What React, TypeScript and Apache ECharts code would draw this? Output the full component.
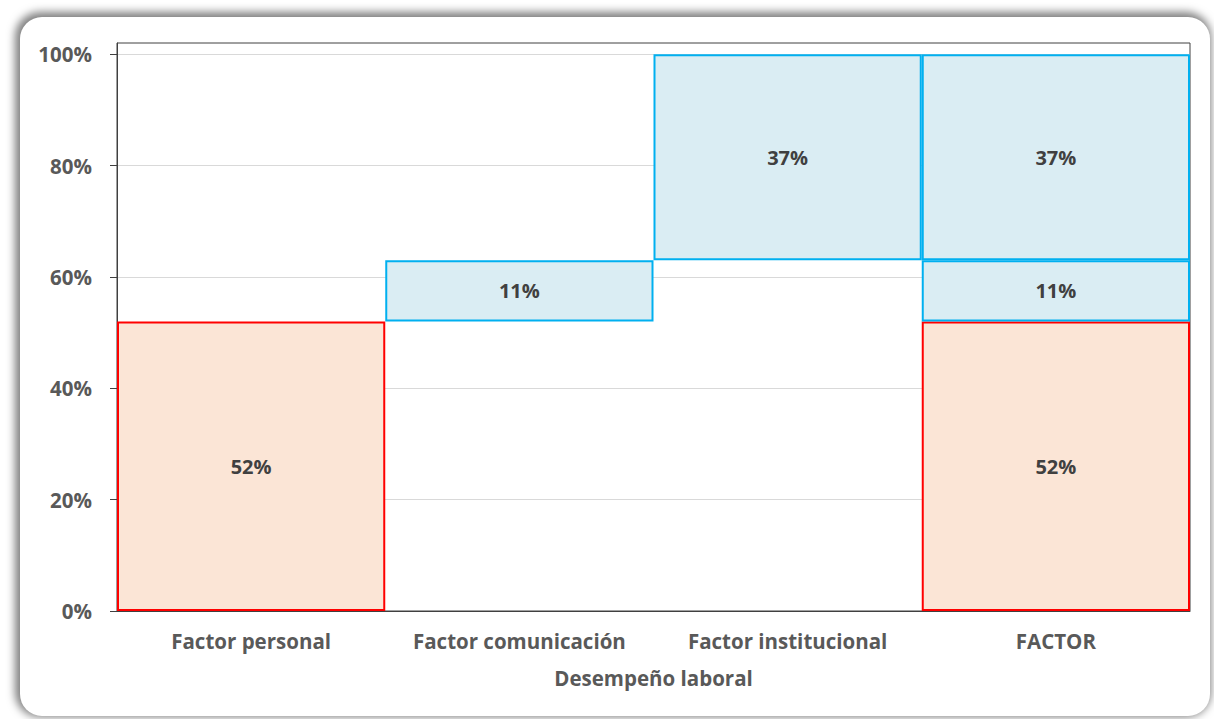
import React, { useEffect, useRef } from "react";
import * as echarts from "echarts";

// Waterfall of factor contributions to job performance
const categories = ["Factor personal", "Factor comunicación", "Factor institucional", "FACTOR"];
const personal = [0.52, null, null, 0.52];
const comunicacion = [null, 0.11, null, 0.11];
const institucional = [null, null, 0.37, 0.37];
const yTicks = [0, 0.2, 0.4, 0.6, 0.8, 1.0];
const xAxisTitle = "Desempeño laboral";

const FONT = "'Open Sans', 'Noto Sans', sans-serif";

export default function App() {
  const ref = useRef<HTMLDivElement>(null);

  useEffect(() => {
    if (!ref.current) return;
    const chart = echarts.init(ref.current, null, { renderer: "svg" });

    // invisible base: running total of the preceding steps
    const base = categories.map((_, i) => {
      if (i === categories.length - 1) return 0;
      let s = 0;
      for (let k = 0; k < i; k++) {
        s += (personal[k] ?? 0) + (comunicacion[k] ?? 0) + (institucional[k] ?? 0);
      }
      return s;
    });

    const pct = (v: number) => `${Math.round(v * 100)}%`;
    const label = {
      show: true,
      position: "inside" as const,
      formatter: (p: any) => pct(p.value),
      color: "#404040",
      fontFamily: FONT,
      fontWeight: "bold" as const,
      fontSize: 20,
    };
    const orange = {
      color: "#FBE5D6",
      borderColor: "#FF0000",
      borderWidth: 2,
    };
    const blue = {
      color: "#DAEDF3",
      borderColor: "#00B0F0",
      borderWidth: 2,
    };

    chart.setOption({
      animation: false,
      grid: {
        left: 117,
        right: 24,
        top: 43,
        bottom: 108,
        show: true,
        borderColor: "#404040",
        borderWidth: 1,
        backgroundColor: "transparent",
      },
      xAxis: {
        type: "category",
        data: categories,
        name: xAxisTitle,
        nameLocation: "middle",
        nameGap: 56,
        nameTextStyle: {
          color: "#595959",
          fontFamily: FONT,
          fontWeight: "bold",
          fontSize: 20.5,
        },
        axisLine: { lineStyle: { color: "#404040", width: 1 } },
        axisTick: { show: false },
        axisLabel: {
          interval: 0,
          color: "#595959",
          fontFamily: FONT,
          fontWeight: "bold",
          fontSize: 20.5,
          margin: 19,
        },
      },
      yAxis: {
        type: "value",
        min: 0,
        max: 1.02,
        interval: 0.2,
        axisLine: { show: true, lineStyle: { color: "#404040", width: 1 } },
        axisTick: { show: true, length: 7, customValues: yTicks, lineStyle: { color: "#404040" } },
        axisLabel: {
          customValues: yTicks,
          formatter: (v: number) => pct(v),
          color: "#595959",
          fontFamily: FONT,
          fontWeight: "bold",
          fontSize: 20.5,
          margin: 25,
        },
        splitLine: { lineStyle: { color: "#D9D9D9", width: 1 } },
      },
      series: [
        {
          name: "base",
          type: "bar",
          stack: "w",
          data: base,
          itemStyle: { color: "transparent", borderWidth: 0 },
          silent: true,
          barCategoryGap: "0%",
        },
        {
          name: "Factor personal",
          type: "bar",
          stack: "w",
          data: personal,
          itemStyle: orange,
          label,
          barCategoryGap: "0%",
        },
        {
          name: "Factor comunicación",
          type: "bar",
          stack: "w",
          data: comunicacion,
          itemStyle: blue,
          label,
          barCategoryGap: "0%",
        },
        {
          name: "Factor institucional",
          type: "bar",
          stack: "w",
          data: institucional,
          itemStyle: blue,
          label,
          barCategoryGap: "0%",
        },
      ],
    });

    return () => chart.dispose();
  }, []);

  return (
    <div
      style={{
        position: "fixed",
        left: 0,
        top: 0,
        width: 1214,
        height: 719,
        background: "#ffffff",
        overflow: "hidden",
      }}
    >
      <div
        style={{
          position: "absolute",
          left: 20,
          top: 17,
          width: 1190,
          height: 699,
          borderRadius: 22,
          background: "#ffffff",
          boxShadow: "-2px -2px 8px 3px rgba(0,0,0,0.5)",
        }}
      />
      <div
        ref={ref}
        style={{ position: "absolute", left: 0, top: 0, width: 1214, height: 719 }}
      />
    </div>
  );
}
